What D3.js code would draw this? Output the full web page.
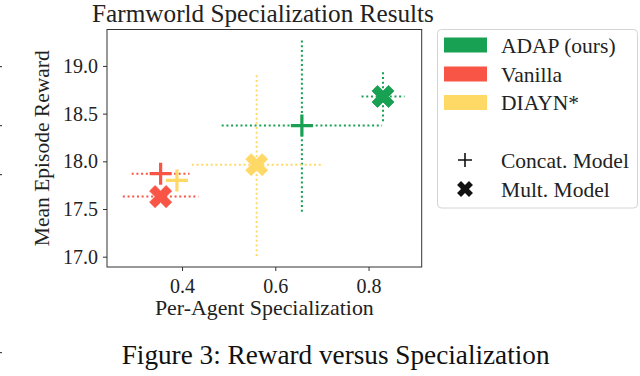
<!DOCTYPE html>
<html><head><meta charset="utf-8">
<script src="https://cdn.jsdelivr.net/npm/d3@7"></script>
<style>html,body{margin:0;padding:0;background:#fff;}svg{display:block;}</style>
</head><body>
<svg id="chart" width="640" height="376"></svg>
<script>
// ---- data ----
const methods = ["ADAP (ours)", "Vanilla", "DIAYN*"];
const methodColors = ["#18a152", "#f95546", "#ffd966"];
const models = ["Concat. Model", "Mult. Model"];
const concatSpec = [0.657, 0.354, 0.389];
const concatSpecErr = [0.172, 0.062, 0.0];
const concatReward = [18.375, 17.87, 17.80];
const concatRewardErr = [0.904, 0.0, 0.0];
const multSpec = [0.831, 0.354, 0.560];
const multSpecErr = [0.046, 0.081, 0.139];
const multReward = [18.68, 17.63, 17.965];
const multRewardErr = [0.26, 0.0, 0.957];
const xTicks = [0.4, 0.6, 0.8];
const yTicks = [17.0, 17.5, 18.0, 18.5, 19.0];
const titleText = "Farmworld Specialization Results";
const xLabel = "Per-Agent Specialization";
const yLabel = "Mean Episode Reward";
const captionText = "Figure 3: Reward versus Specialization";

// ---- layout ----
const svg = d3.select("#chart");
const L = 107, R = 421.7, T = 29.5, B = 267;
const x = d3.scaleLinear().domain([0.239, 0.914]).range([L, R]);
const y = d3.scaleLinear().domain([16.892, 19.382]).range([B, T]);
const serif = "'Liberation Serif', 'DejaVu Serif', serif";
const txt = "#222";

function fit(sel, target, fs0) {
  sel.attr("font-size", fs0);
  const w = sel.node().getComputedTextLength();
  sel.attr("font-size", fs0 * target / w);
  return sel;
}

// page artifacts on the left edge
[66, 125, 174, 352].forEach(v => svg.append("rect").attr("x", 0).attr("y", v).attr("width", 2).attr("height", 1.2).attr("fill", "#444"));

// title
fit(svg.append("text").attr("x", 263).attr("y", 22).attr("text-anchor", "middle")
  .attr("font-family", serif).attr("fill", txt).text(titleText), 342, 20);

// axes
const xAxis = d3.axisBottom(x).tickValues(xTicks).tickFormat(d3.format(".1f")).tickSize(4).tickPadding(4);
const yAxis = d3.axisLeft(y).tickValues(yTicks).tickFormat(d3.format(".1f")).tickSize(4).tickPadding(5);
const gx = svg.append("g").attr("transform", `translate(0,${B})`).call(xAxis);
const gy = svg.append("g").attr("transform", `translate(${L},0)`).call(yAxis);
[gx, gy].forEach(g => {
  g.select(".domain").remove();
  g.selectAll(".tick line").attr("stroke", "#333").attr("stroke-width", 1);
  g.selectAll(".tick text").attr("font-family", serif).attr("fill", txt).attr("font-size", 16);
});
{
  const w = gy.select(".tick text").node().getComputedTextLength();
  const fs = 16 * 35 / w;
  gx.selectAll(".tick text").attr("font-size", fs);
  gy.selectAll(".tick text").attr("font-size", fs);
}
gx.selectAll(".tick text").attr("dy", "0.9em");
// frame
svg.append("rect").attr("x", L).attr("y", T).attr("width", R - L).attr("height", B - T)
  .attr("fill", "none").attr("stroke", "#333").attr("stroke-width", 1);

// axis labels
fit(svg.append("text").attr("x", (L + R) / 2).attr("y", 315).attr("text-anchor", "middle")
  .attr("font-family", serif).attr("fill", txt).text(xLabel), 219, 16);
fit(svg.append("text").attr("transform", `translate(49,${(T + B) / 2}) rotate(-90)`).attr("text-anchor", "middle")
  .attr("font-family", serif).attr("fill", txt).text(yLabel), 196, 16);

// error bars
const plot = svg.append("g");
function errbars(spec, specErr, rew, rewErr) {
  methods.forEach((m, i) => {
    const c = methodColors[i];
    const style = s => s.attr("stroke", c).attr("stroke-width", 2).attr("stroke-dasharray", "2 2.7").attr("fill", "none");
    if (specErr[i] > 0) plot.append("line").attr("x1", x(spec[i] - specErr[i])).attr("x2", x(spec[i] + specErr[i]))
      .attr("y1", y(rew[i])).attr("y2", y(rew[i])).call(style);
    if (rewErr[i] > 0) plot.append("line").attr("x1", x(spec[i])).attr("x2", x(spec[i]))
      .attr("y1", y(rew[i] - rewErr[i])).attr("y2", y(rew[i] + rewErr[i])).call(style);
  });
}
errbars(concatSpec, concatSpecErr, concatReward, concatRewardErr);
errbars(multSpec, multSpecErr, multReward, multRewardErr);

// markers
const u = 3.9;
const plusPts = [[-1,-3],[1,-3],[1,-1],[3,-1],[3,1],[1,1],[1,3],[-1,3],[-1,1],[-3,1],[-3,-1],[-1,-1]];
const xPath = "M" + plusPts.map(([a, b]) => {
  const r = Math.SQRT1_2;
  return [((a - b) * r * u).toFixed(2), ((a + b) * r * u).toFixed(2)].join(",");
}).join("L") + "Z";
function plusMark(g, cx, cy, c, s, w) {
  g.append("path").attr("d", `M${cx - s},${cy}H${cx + s}M${cx},${cy - s}V${cy + s}`)
    .attr("stroke", c).attr("stroke-width", w).attr("fill", "none");
}
function xMark(g, cx, cy, c) {
  g.append("path").attr("d", xPath).attr("transform", `translate(${cx},${cy})`).attr("fill", c)
    .attr("stroke", c).attr("stroke-width", 0.8).attr("stroke-linejoin", "round");
}
[2, 1, 0].forEach(i => xMark(plot, x(multSpec[i]), y(multReward[i]), methodColors[i]));
[2, 1, 0].forEach(i => plusMark(plot, x(concatSpec[i]), y(concatReward[i]), methodColors[i], 11, 3.2));

// legend
const lg = svg.append("g");
lg.append("rect").attr("x", 437.5).attr("y", 29.5).attr("width", 200).attr("height", 178.5).attr("rx", 4)
  .attr("fill", "#fff").attr("stroke", "#d4d4d4").attr("stroke-width", 1);
const rowY = [45, 74, 102.5];
methods.forEach((m, i) => {
  lg.append("rect").attr("x", 444).attr("y", rowY[i] - 7.5).attr("width", 43).attr("height", 15).attr("fill", methodColors[i]);
  lg.append("text").attr("x", 501).attr("y", rowY[i]).attr("dy", "0.35em").attr("font-family", serif)
    .attr("fill", txt).attr("font-size", 15.5).attr("class", "lgt").text(m);
});
const modelY = [160, 189];
plusMark(lg, 465, modelY[0], "#111", 7, 1.6);
lg.append("path").attr("d", xPath).attr("transform", `translate(465,${modelY[1]}) scale(0.72)`).attr("fill", "#111");
models.forEach((m, i) => {
  lg.append("text").attr("x", 501).attr("y", modelY[i]).attr("dy", "0.35em").attr("font-family", serif)
    .attr("fill", txt).attr("font-size", 15.5).attr("class", "lgt").text(m);
});
// fit legend font to "Concat. Model" width
{
  const t = lg.selectAll(".lgt").filter(function () { return this.textContent === models[0]; });
  const w = t.node().getComputedTextLength();
  lg.selectAll(".lgt").attr("font-size", 15.5 * 128 / w);
}

// caption
fit(svg.append("text").attr("x", 121.7).attr("y", 364).attr("font-family", "'Liberation Serif', serif")
  .attr("fill", "#111").text(captionText), 428, 22);
</script>
</body></html>
